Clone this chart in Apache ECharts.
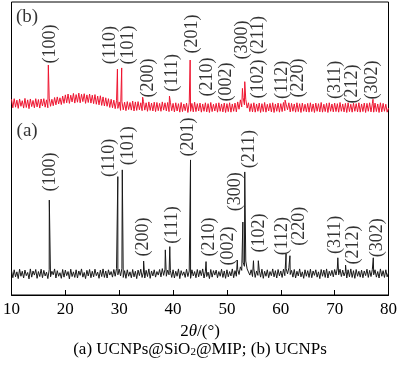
<!DOCTYPE html>
<html><head><meta charset="utf-8">
<script src="https://cdn.jsdelivr.net/npm/echarts@6/dist/echarts.min.js"></script>
<style>html,body{margin:0;padding:0;background:#fff}#c{width:400px;height:365px}</style>
</head><body><div id="c"></div>
<script>
// sampling grid of the baseline arrays (2θ)
const gridStart = 10, gridStep = 0.25;
const xTicks = [10, 20, 30, 40, 50, 60, 70, 80];

// (a) UCNPs@SiO2@MIP baseline (a.u.), one value per 0.25°
const baseA = [
8.3,5.9,8.6,6.2,7.9,5.6,8.8,6.4,8.1,5.8,8.5,6.6,7.7,5.5,8.9,6.1,8.2,6.8,8.7,5.7,
8.0,6.3,8.8,5.9,8.4,6.5,7.8,5.6,8.6,6.2,8.1,6.9,8.9,5.8,8.3,6.4,7.6,5.7,8.7,6.1,
8.5,6.6,8.0,5.5,8.8,6.3,7.9,6.0,8.6,5.8,8.2,6.7,8.9,6.1,7.7,5.6,8.4,6.5,8.7,5.9,
8.1,6.2,8.8,6.6,7.8,5.7,8.5,6.3,8.9,6.0,8.2,5.8,8.6,6.8,8.0,6.1,8.7,6.4,9.0,6.9,
8.8,6.5,9.1,6.0,8.3,5.7,8.6,6.4,7.9,5.9,8.7,6.2,8.1,5.6,8.5,6.6,8.8,6.0,7.8,5.8,
8.4,6.3,8.9,5.7,8.2,6.5,8.6,6.1,8.0,6.8,8.7,6.2,9.0,6.7,8.8,6.4,8.5,6.9,8.3,6.0,
8.6,5.8,8.1,6.4,8.9,5.6,8.3,6.7,7.9,6.0,8.8,6.3,8.2,5.7,8.6,6.5,8.0,5.9,8.7,6.2,
8.4,6.6,8.9,5.8,8.1,6.3,7.8,5.6,8.7,6.1,8.3,6.8,8.5,5.9,8.0,6.4,8.8,6.0,8.2,5.7,
8.6,6.2,8.0,6.5,8.9,5.9,8.3,6.4,8.7,7.0,9.6,8.4,11.2,9.8,11.6,8.9,9.4,6.8,8.6,6.3,
8.9,6.0,8.2,6.7,8.5,6.1,8.8,5.7,8.1,6.4,8.6,5.9,8.0,6.6,8.9,6.2,8.3,5.8,8.7,6.5,
8.2,6.0,8.8,6.6,9.0,7.2,9.3,7.0,8.4,6.1,8.7,5.8,8.1,6.5,8.9,6.2,7.9,5.7,8.6,6.4,
8.3,6.0,8.8,5.9,8.2,6.7,8.6,6.1,7.9,5.6,8.7,6.4,8.5,6.0,8.9,5.8,8.1,6.6,8.4,6.2,
8.7,6.8,9.2,6.9,8.8,6.3,8.5,6.5,8.0,5.8,8.6,6.2,8.9,6.0,8.3,5.7,8.7,6.4,8.1,6.1,
8.5,5.9,8.2,6.6,8.8,6.0,8.4,6.3,8.7,6.9,8.6,6.1,8.0,5.8,8.9,6.4,8.3,6.0,8.6,6.2,
7.6];
// (a) diffraction peak maxima [2θ, intensity]
const peaksA = [
[17.02,32.4],[29.74,40.4],[30.57,42.7],[34.53,11.6],[38.56,15.4],[39.39,16.5],
[43.24,46.1],[46.12,11.4],[51.93,11.9],[52.96,24.9],[53.31,42.0],[54.93,11.7],
[55.83,11.7],[60.98,14.0],[61.70,13.4],[70.59,12.7],[72.03,10.2],[77.18,12.7]];

// (b) UCNPs baseline (a.u.), one value per 0.25°
const baseB = [
66.8,63.9,67.0,64.1,66.5,63.7,66.9,64.4,66.3,63.8,67.1,64.0,66.6,63.6,66.9,64.3,66.4,63.9,67.0,64.2,
66.7,63.8,66.9,64.5,67.0,64.1,66.6,63.9,67.2,64.4,66.8,64.6,67.4,64.9,67.6,65.2,67.3,65.0,67.9,65.4,
68.3,65.6,68.6,65.4,68.2,65.9,68.8,65.5,68.4,65.8,68.9,65.6,68.5,66.0,68.7,65.4,68.3,65.7,68.6,65.5,
68.2,65.3,68.4,65.1,67.9,64.9,68.0,64.7,67.6,64.5,67.3,64.4,67.0,64.0,66.8,63.9,66.5,63.6,66.3,63.7,
65.9,63.0,66.1,63.2,65.8,62.9,66.0,63.3,65.7,63.1,66.2,62.8,65.9,63.0,66.0,63.2,65.6,62.9,66.1,63.1,
65.6,62.7,65.9,63.0,65.5,62.8,65.8,62.6,65.7,62.9,65.4,62.7,65.9,63.1,65.6,62.8,65.7,62.6,65.8,62.9,
65.4,62.5,65.6,62.8,65.3,62.4,65.7,62.6,65.2,62.9,65.5,62.3,65.6,62.7,65.4,62.5,65.8,62.6,65.3,62.8,
65.5,62.4,65.2,62.7,65.6,62.5,65.3,62.3,65.7,62.6,65.1,62.8,65.4,62.4,65.6,62.7,65.2,62.5,65.5,62.3,
65.3,62.6,65.6,62.4,65.2,62.7,65.5,62.5,65.9,63.4,66.6,64.2,67.4,64.9,66.8,63.8,65.6,62.6,65.3,62.5,
65.6,62.4,65.2,62.7,65.5,62.3,65.3,62.6,65.7,62.4,65.1,62.8,65.4,62.5,65.6,62.3,65.2,62.7,65.5,62.4,
65.3,62.6,65.7,62.9,66.3,63.2,65.6,62.5,65.4,62.7,65.2,62.4,65.6,62.6,65.3,62.3,65.5,62.7,65.1,62.5,
65.4,62.4,65.6,62.6,65.2,62.3,65.5,62.7,65.3,62.5,65.7,62.4,65.1,62.6,65.4,62.3,65.6,62.7,65.2,62.5,
65.5,62.6,65.3,62.4,65.7,62.7,65.2,62.5,65.4,62.3,65.6,62.6,65.1,62.4,65.5,62.7,65.3,62.5,65.6,62.4,
65.2,62.6,65.5,62.3,65.4,62.7,65.6,62.5,65.3,62.4,65.5,62.6,65.2,62.3,65.6,62.5,65.4,62.7,65.1,62.4,
63.8];
// (b) diffraction peak maxima [2θ, intensity]
const peaksB = [
[16.84,78.5],[29.67,77.1],[30.46,77.5],[34.35,67.5],[39.33,67.9],[43.17,80.2],
[52.88,70.5],[53.31,72.8],[60.80,66.5],[77.12,66.8]];

// Miller-index labels: [text, 2θ, intensity at label centre]
const labelsA = [
['(100)',17.20,42.0],['(110)',28.12,46.8],['(101)',31.59,50.9],['(200)',34.42,19.8],
['(111)',39.82,23.9],['(201)',42.81,53.9],['(210)',46.71,19.8],['(002)',50.31,16.7],
['(300)',51.52,35.2],['(211)',54.21,49.8],['(102)',56.01,21.2],['(112)',60.21,20.1],
['(220)',63.50,23.5],['(311)',70.10,20.5],['(212)',73.40,17.1],['(302)',77.90,19.5]];
const labelsB = [
['(100)',17.20,85.7],['(110)',28.41,85.3],['(101)',31.59,85.3],['(200)',35.32,74.1],
['(111)',39.82,75.8],['(201)',43.60,89.1],['(210)',46.26,74.4],['(002)',49.86,72.7],
['(300)',52.83,87.0],['(211)',55.89,88.7],['(102)',55.89,73.7],['(112)',60.21,73.4],
['(220)',63.21,74.1],['(311)',70.10,73.4],['(212)',73.22,72.0],['(302)',77.00,73.4]];
// panel tags
const panelTags = [['(b)',12.9,94.8],['(a)',12.9,56.0]];

const caption = '(a) UCNPs@SiO{sub|2}@MIP; (b) UCNPs';
const axisTitle = '2{i|θ}/(°)';

function buildTrace(base, peaks) {
  const pts = base.map((v, i) => [gridStart + i * gridStep, v]);
  peaks.forEach(p => pts.push(p));
  pts.sort((a, b) => a[0] - b[0]);
  return pts;
}
const FONT = "'Liberation Serif', 'Times New Roman', 'DejaVu Serif', serif";
function labelSeries(list, rotate, size) {
  return {
    type: 'scatter', symbolSize: 0, silent: true, z: 5,
    data: list.map(d => ({ name: d[0], value: [d[1], d[2]] })),
    label: {
      show: true, position: 'inside', rotate: rotate, formatter: '{b}',
      color: '#000', fontFamily: FONT, fontSize: size, align: 'center', verticalAlign: 'middle'
    }
  };
}

const chart = echarts.init(document.getElementById('c'), null, { renderer: 'canvas' });
chart.setOption({
  animation: false,
  backgroundColor: '#fff',
  textStyle: { fontFamily: FONT },
  grid: { left: 6, right: 5, top: 2, bottom: 70, show: true, borderColor: '#000', borderWidth: 1, backgroundColor: 'transparent' },
  xAxis: {
    type: 'value', min: xTicks[0], max: xTicks[xTicks.length - 1], interval: 10,
    axisLine: { show: true, lineStyle: { color: '#000', width: 1 } },
    axisTick: { show: true, inside: true, length: 5, lineStyle: { color: '#000' } },
    axisLabel: { color: '#000', fontFamily: FONT, fontSize: 17, margin: 6 },
    splitLine: { show: false },
    name: axisTitle, nameLocation: 'middle', nameGap: 27,
    nameTextStyle: { color: '#000', fontFamily: FONT, fontSize: 17, rich: { i: { fontStyle: 'italic', fontFamily: FONT, fontSize: 17 } } }
  },
  yAxis: { type: 'value', min: 0, max: 100, show: false, splitLine: { show: false } },
  series: [
    { type: 'line', data: buildTrace(baseA, peaksA), showSymbol: false, symbol: 'none', lineStyle: { color: '#1a1a1a', width: 1 }, z: 3 },
    { type: 'line', data: buildTrace(baseB, peaksB), showSymbol: false, symbol: 'none', lineStyle: { color: '#ee1530', width: 1 }, z: 3 },
    labelSeries(labelsA, 90, 18),
    labelSeries(labelsB, 90, 18),
    labelSeries(panelTags, 0, 19)
  ],
  graphic: [{
    type: 'text', left: 'center', top: 341,
    style: {
      text: caption, fill: '#000', fontFamily: FONT, fontSize: 17,
      rich: { sub: { fontSize: 11, fontFamily: FONT, verticalAlign: 'bottom', padding: [6, 0, 0, 0] } }
    }
  }]
});
</script></body></html>
